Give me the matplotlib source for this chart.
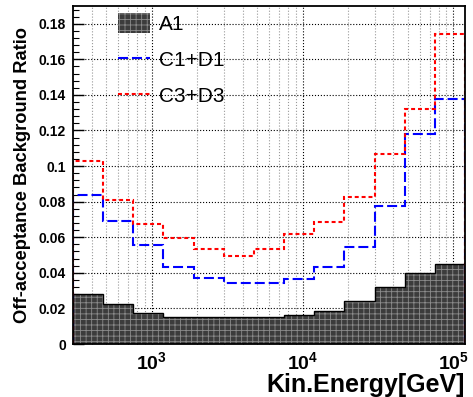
import matplotlib
matplotlib.use("Agg")
import matplotlib.pyplot as plt
from matplotlib.patches import Patch
from matplotlib.lines import Line2D
from matplotlib.ticker import FixedLocator, NullFormatter

plt.rcParams['font.family'] = ['Liberation Sans', 'DejaVu Sans']
plt.rcParams['font.weight'] = 'bold'
plt.rcParams['mathtext.fontset'] = 'custom'
plt.rcParams['mathtext.bf'] = 'Liberation Sans:bold'
plt.rcParams['mathtext.rm'] = 'Liberation Sans:bold'
plt.rcParams['hatch.linewidth'] = 0.6

# bin edges in GeV (0.2 decade bins)
edges = [300, 475.5, 753.6, 1194.4, 1893, 3000, 4755, 7536,
         11944, 18930, 30000, 47547, 75357, 119432]
a1 = [0.0283, 0.0225, 0.0176, 0.0154, 0.0150, 0.0150, 0.0154,
      0.0162, 0.0186, 0.0242, 0.0319, 0.0401, 0.0451]
c1d1 = [0.0837, 0.0689, 0.0558, 0.0434, 0.0370, 0.0342, 0.0342,
        0.0364, 0.0432, 0.0545, 0.0777, 0.1183, 0.1375]
c3d3 = [0.1031, 0.0811, 0.0676, 0.0597, 0.0533, 0.0497, 0.0535,
        0.0620, 0.0686, 0.0827, 0.1068, 0.1322, 0.1743]
labels = ['A1', 'C1+D1', 'C3+D3']
xticks = [1e3, 1e4, 1e5]
xticklabels = [r'$\mathbf{10^{3}}$', r'$\mathbf{10^{4}}$', r'$\mathbf{10^{5}}$']

fig = plt.figure(figsize=(4.73, 3.97), dpi=100)
ax = fig.add_axes([0.1543, 0.1335, 0.8288, 0.8515])
ax.set_axisbelow(True)

fill_fc = '#3c3c3c'
fill_hc = '#8c8c8c'
ax.stairs(a1, edges, baseline=0, fill=True, facecolor=fill_fc,
          edgecolor=fill_hc, hatch='+++', linewidth=0)
ax.stairs(a1, edges, baseline=0, color='black', linewidth=1.0)
ax.stairs(c1d1, edges, baseline=0, color='blue', linewidth=1.5,
          linestyle=(0, (4.8, 1.9)))
ax.stairs(c3d3, edges, baseline=0, color='red', linewidth=1.5,
          linestyle=(0, (1.9, 1.4)))

ax.set_xscale('log')
ax.set_xlim(edges[0], edges[-1])
ax.set_ylim(0, 0.19)

ax.xaxis.set_major_locator(FixedLocator(xticks))
ax.set_xticklabels(xticklabels)
ax.xaxis.set_minor_formatter(NullFormatter())
ax.set_yticks([0, 0.02, 0.04, 0.06, 0.08, 0.1, 0.12, 0.14, 0.16, 0.18])
ax.set_yticklabels(['0', '0.02', '0.04', '0.06', '0.08', '0.1',
                    '0.12', '0.14', '0.16', '0.18'])
ax.yaxis.set_minor_locator(FixedLocator([i * 0.004 for i in range(48)]))

ax.tick_params(axis='x', which='major', direction='in', length=6,
               width=1, labelsize=14, pad=5)
ax.tick_params(axis='x', which='minor', direction='in', length=3, width=0.8)
ax.tick_params(axis='y', which='major', direction='in', length=8,
               width=1, labelsize=10, pad=5)
ax.tick_params(axis='y', which='minor', direction='in', length=4, width=0.8)

ax.grid(which='major', linestyle=':', color='black', linewidth=0.8)
ax.grid(which='minor', axis='x', linestyle=':', color='#999999', linewidth=0.8)

for s in ax.spines.values():
    s.set_linewidth(1.3)

ax.set_ylabel('Off-acceptance Background Ratio', fontsize=13.2,
              fontweight='bold')
ax.yaxis.set_label_coords(-0.107, 0.5)
ax.set_xlabel('Kin.Energy[GeV]', fontsize=18, fontweight='bold')
ax.xaxis.set_label_coords(1.0, -0.085)
ax.xaxis.label.set_horizontalalignment('right')

handles = [Patch(facecolor=fill_fc, edgecolor=fill_hc, hatch='+++', linewidth=0),
           Line2D([], [], color='blue', linewidth=1.5, linestyle=(0, (4.8, 1.9))),
           Line2D([], [], color='red', linewidth=1.5, linestyle=(0, (1.9, 1.4)))]
ax.legend(handles, labels, loc='upper left', bbox_to_anchor=(0.115, 0.979),
          frameon=False, borderpad=0, borderaxespad=0,
          handlelength=1.55, handleheight=1.1, handletextpad=0.4,
          labelspacing=0.72, prop={'weight': 'normal', 'size': 15})

fig.savefig('out.png', dpi=100)
